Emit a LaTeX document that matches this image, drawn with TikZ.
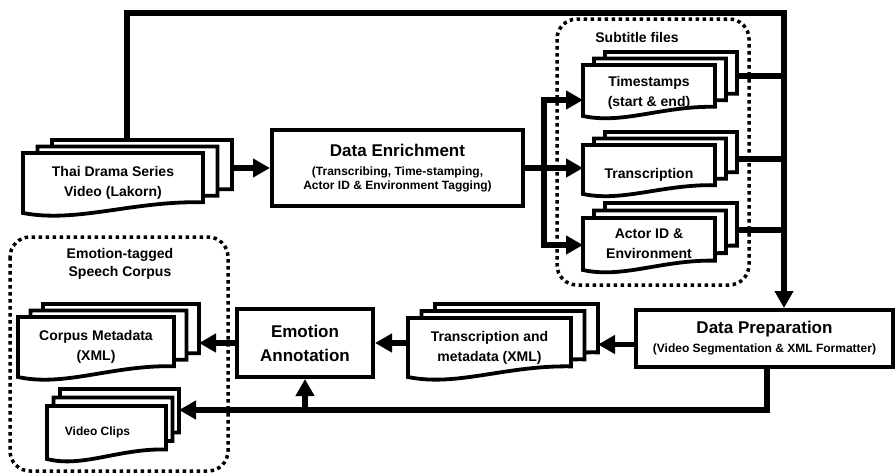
\documentclass[tikz,border=0pt]{standalone}
\usepackage{fontspec}
\setmainfont{Liberation Sans}
\usetikzlibrary{arrows.meta,calc}
\tikzset{
  docbox/.style={draw=black, line width=3.8pt, fill=white, line join=miter},
  box/.style={draw=black, line width=4pt, fill=white, inner sep=0pt, align=center},
  conn/.style={draw=black, line width=5.5pt},
  arr/.style={conn, -{Triangle[length=17pt,width=18pt]}},
  grp/.style={draw=black, line width=3.5pt, dash pattern=on 3.5pt off 3.5pt, rounded corners=20pt},
  doctext/.style={font=\fontsize{14}{20}\selectfont\bfseries, align=center, inner sep=0pt},
  lbl/.style={font=\fontsize{14}{18}\selectfont\bfseries, align=center, inner sep=0pt},
  hidden/.style={inner sep=0pt, outer sep=0pt, draw=none}
}
% #1 name, #2 x1, #3 y1, #4 x2, #5 y2 (front bottom-left), #6 dx, #7 dy, #8 text options, #9 text
\newcommand\docstack[9]{%
  \foreach \k in {2,1,0}{%
    \pgfmathsetmacro\dXa{#2+\k*#6}\pgfmathsetmacro\dXb{#4+\k*#6}%
    \pgfmathsetmacro\dYa{#3-\k*#7}\pgfmathsetmacro\dYb{#5-\k*#7}%
    \pgfmathsetmacro\dW{#4-#2}\pgfmathsetmacro\dH{#5-#3}%
    \draw[docbox] (\dXa,\dYa) -- (\dXb,\dYa) -- ({\dXb},{\dYb-0.18*\dH})
      .. controls ({\dXa+0.6*\dW},{\dYb-0.2*\dH}) and ({\dXa+0.3*\dW},{\dYb+0.17*\dH}) .. (\dXa,\dYb) -- cycle;
  }
  \node[hidden, minimum width={#4-#2}, minimum height={#5-#3}] (#1) at ({(#2+#4)/2},{(#3+#5)/2}) {};
  \node[hidden, minimum width={#4-#2}, minimum height={#5-#3}] (#1-b) at ({(#2+#4)/2+2*#6},{(#3+#5)/2-2*#7}) {};
  \node[doctext,#8] (#1-t) at (#1.center) {#9};
}
\begin{document}
\begin{tikzpicture}[x=1pt,y=-1pt]
\useasboundingbox (0,0) rectangle (896,474);

% group boxes
\draw[grp] (557,19) rectangle (749,285);
\node[lbl] (stl) at (637,37) {Subtitle files};
\draw[grp] (10,237) rectangle (228,471);
\node[lbl] (ecl) at (120,264) {Emotion-tagged\\Speech Corpus};

% documents
\docstack{thai}{23}{153}{203}{213}{14.5}{6.5}{}{Thai Drama Series\\Video (Lakorn)}
\docstack{ts}{583}{65}{715}{116}{11}{6.5}{yshift=-2pt}{Timestamps\\(start \& end)}
\docstack{tr}{583}{145}{715}{194}{11}{6.5}{yshift=-5pt}{Transcription}
\docstack{ac}{583}{218}{715}{270}{11}{7.5}{}{Actor ID \&\\Environment}
\docstack{tm}{408}{318}{571}{377}{13.5}{7}{}{Transcription and\\metadata (XML)}
\docstack{cm}{18}{317}{174}{377}{12.5}{6.5}{}{Corpus Metadata\\(XML)}
\docstack{vc}{47}{406}{166}{459}{6.5}{8.5}{xshift=-9pt,font=\fontsize{12}{14}\selectfont\bfseries}{Video Clips}

% process boxes
\node[box, minimum width=251, minimum height=76, font=\fontsize{12}{14}\selectfont\bfseries] (DE) at (397.5,168)
  {{\fontsize{17}{17}\selectfont Data Enrichment}\\[5pt](Transcribing, Time-stamping,\\Actor ID \& Environment Tagging)};
\node[box, minimum width=257, minimum height=57, font=\fontsize{12}{14}\selectfont\bfseries] (DP) at (764.5,338.5)
  {{\fontsize{17}{17}\selectfont Data Preparation}\\[5pt](Video Segmentation \& XML Formatter)};
\node[box, minimum width=136, minimum height=68, font=\fontsize{17}{24}\selectfont\bfseries] (EA) at (305,343)
  {Emotion\\Annotation};

% connectors
\draw[arr] (DE.west -| thai-b.east) -- (DE.west);
\draw[arr] (DE.east) -- (DE.east -| tr.west);
\coordinate (bT) at (544,100);
\coordinate (bB) at (544,245);
\draw[conn, line cap=rect] (bT) -- (bB);
\draw[arr] (bT) -- (bT -| ts.west);
\draw[arr] (bB) -- (bB -| ac.west);

\coordinate (tR) at (784,13);
\draw[arr, line join=miter] ($(thai-b.north west)+(75,0)$) |- (tR) -- (tR |- DP.north);
\path ([yshift=-24pt]ts-b.north east) coordinate (tsO);
\path ([yshift=-27pt]tr-b.north east) coordinate (trO);
\path ([yshift=-27pt]ac-b.north east) coordinate (acO);
\draw[conn] (tsO) -- (tsO -| tR);
\draw[conn] (trO) -- (trO -| tR);
\draw[conn] (acO) -- (acO -| tR);

\draw[arr] ([yshift=-6pt]DP.west) -- ([yshift=-6pt]DP.west -| tm-b.east);
\draw[arr] (EA.east -| tm.west) -- (EA.east);
\draw[arr] (EA.west) -- (EA.west -| cm-b.east);
\coordinate (low) at (767,410);
\draw[arr, line join=miter] (low |- DP.south) -- (low) -- (low -| vc-b.east);
\draw[arr] (low -| EA.south) -- (EA.south);
\end{tikzpicture}
\end{document}
